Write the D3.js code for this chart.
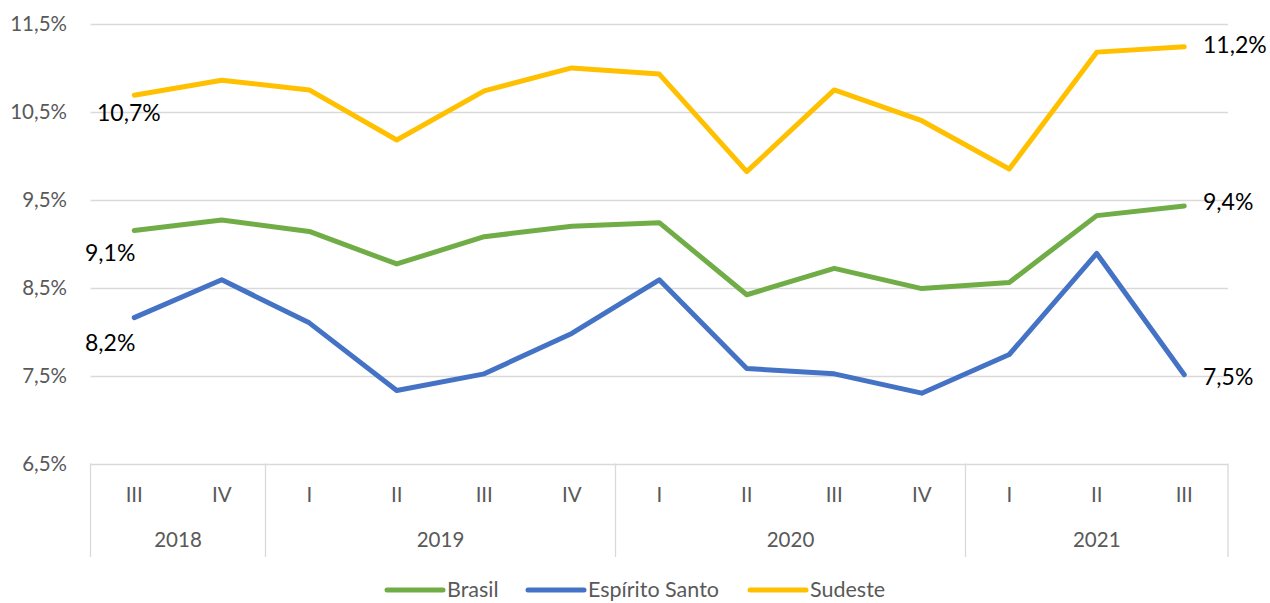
<!DOCTYPE html>
<html><head><meta charset="utf-8">
<script src="https://cdn.jsdelivr.net/npm/d3@7"></script>
<style>body{margin:0;background:#fff}svg{display:block;font-family:Lato,"Open Sans",sans-serif}</style>
</head><body><svg id="c" width="1270" height="603"></svg>
<script>
const quarters = ["III","IV","I","II","III","IV","I","II","III","IV","I","II","III"];
const years = [{label:"2018",start:0,end:2},{label:"2019",start:2,end:6},{label:"2020",start:6,end:10},{label:"2021",start:10,end:13}];
const brasil = [9.15,9.27,9.14,8.77,9.08,9.20,9.24,8.42,8.72,8.49,8.56,9.32,9.43];
const espiritoSanto = [8.16,8.59,8.10,7.33,7.52,7.98,8.59,7.58,7.52,7.30,7.74,8.89,7.51];
const sudeste = [10.69,10.86,10.75,10.18,10.74,11.00,10.93,9.82,10.75,10.40,9.85,11.18,11.24];
const yTicks = [6.5,7.5,8.5,9.5,10.5,11.5];
const seriesNames = ["Brasil","Espírito Santo","Sudeste"];
const colors = ["#70AD47","#4472C4","#FFC000"];
const firstLabels = ["9,1%","8,2%","10,7%"];
const lastLabels = ["9,4%","7,5%","11,2%"];

const svg = d3.select("#c");
const L=90.5, R=1228, T=24, B=463.5;
const x = d3.scaleBand().domain(d3.range(quarters.length)).range([L,R]);
const y = d3.scaleLinear().domain([6.5,11.5]).range([B,T]);
const fmt = v => d3.format(".1f")(v).replace(".",",")+"%";

// gridlines
svg.append("g").selectAll("line").data(yTicks).join("line")
  .attr("x1",L).attr("x2",R).attr("y1",d=>Math.round(y(d))+0.5).attr("y2",d=>Math.round(y(d))+0.5)
  .attr("stroke","#d9d9d9").attr("stroke-width",1.3);
// y labels
svg.append("g").selectAll("text").data(yTicks).join("text")
  .attr("x",67).attr("y",d=>y(d)).attr("dy","0.35em").attr("text-anchor","end")
  .attr("fill","#595959").attr("font-size",20.5).text(fmt);

// category axis separators
const sepIdx = [0,2,6,10,13];
svg.append("g").selectAll("line").data(sepIdx).join("line")
  .attr("x1",d=> d===13? R : x(d)).attr("x2",d=> d===13? R : x(d))
  .attr("y1",B).attr("y2",557).attr("stroke","#d9d9d9").attr("stroke-width",1.3);
svg.append("g").selectAll("text").data(quarters).join("text")
  .attr("x",(d,i)=>x(i)+x.bandwidth()/2).attr("y",495).attr("dy","0.35em")
  .attr("text-anchor","middle").attr("fill","#595959").attr("font-size",20.5).text(d=>d);
svg.append("g").selectAll("text").data(years).join("text")
  .attr("x",d=>(x(d.start)+(d.end===13?R:x(d.end)))/2).attr("y",540).attr("dy","0.35em")
  .attr("text-anchor","middle").attr("fill","#595959").attr("font-size",20.5).text(d=>d.label);

// lines
const data = [brasil, espiritoSanto, sudeste];
const line = d3.line().x((d,i)=>x(i)+x.bandwidth()/2).y(d=>y(d));
const order = [2,0,1];
order.forEach(k=>{
  svg.append("path").datum(data[k]).attr("d",line).attr("fill","none")
    .attr("stroke",colors[k]).attr("stroke-width",5).attr("stroke-linejoin","round").attr("stroke-linecap","round");
});

// data labels
const firstPos = [[85,253],[85,343],[97,113]];
const lastPos = [[1203,202],[1203,377],[1203,45]];
data.forEach((s,k)=>{
  svg.append("text").attr("x",firstPos[k][0]).attr("y",firstPos[k][1]).attr("dy","0.35em")
    .attr("font-size",23).attr("fill","#000").text(firstLabels[k]);
  svg.append("text").attr("x",lastPos[k][0]).attr("y",lastPos[k][1]).attr("dy","0.35em")
    .attr("font-size",23).attr("fill","#000").text(lastLabels[k]);
});

// legend
const legX = [387,528,750];
const legY = 589;
seriesNames.forEach((n,k)=>{
  svg.append("line").attr("x1",legX[k]).attr("x2",legX[k]+56).attr("y1",legY+1).attr("y2",legY+1)
    .attr("stroke",colors[k]).attr("stroke-width",5).attr("stroke-linecap","round");
  svg.append("text").attr("x",legX[k]+60).attr("y",legY).attr("dy","0.35em")
    .attr("font-size",21.5).attr("fill","#595959").text(n);
});
</script></body></html>
